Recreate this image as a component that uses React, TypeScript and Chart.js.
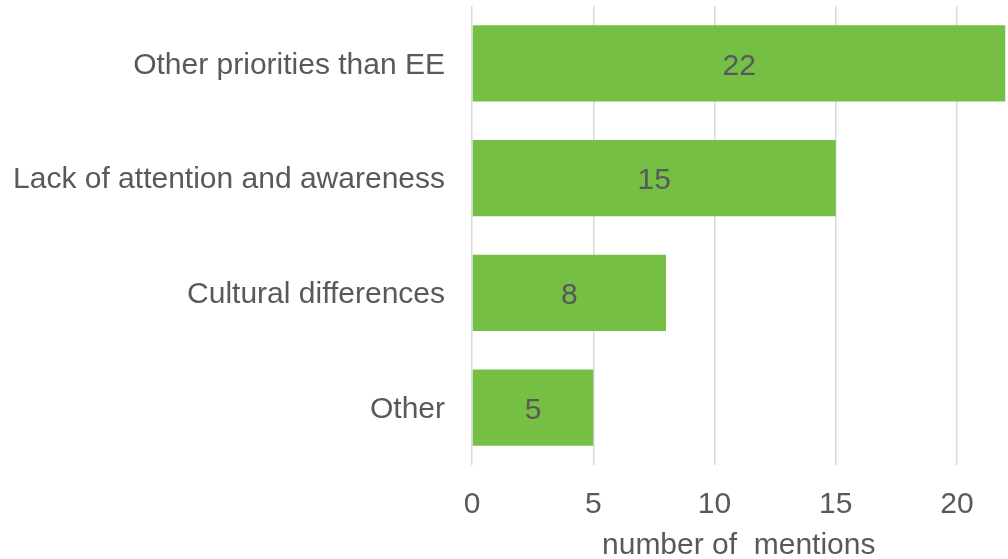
import React, { useEffect, useRef } from "react";
import { Chart, registerables } from "chart.js";

Chart.register(...registerables);

const categories = [
  "Other priorities than EE",
  "Lack of attention and awareness",
  "Cultural differences",
  "Other",
];
const mentions = [22, 15, 8, 5];
const xTicks = [0, 5, 10, 15, 20];
const axisTitle = "number of  mentions";

const FONT = "'Liberation Sans', Arial, sans-serif";
const TEXT = "#595959";
const SIZE = 30;

const valueLabels = {
  id: "valueLabels",
  afterDatasetsDraw(chart: any) {
    const ctx = chart.ctx;
    const meta = chart.getDatasetMeta(0);
    ctx.save();
    ctx.font = `${SIZE}px ${FONT}`;
    ctx.fillStyle = TEXT;
    ctx.textAlign = "center";
    ctx.textBaseline = "middle";
    meta.data.forEach((bar: any, i: number) => {
      const cx = (bar.x + bar.base) / 2;
      ctx.fillText(String(mentions[i]), cx, bar.y + 3);
    });
    ctx.restore();
  },
};

export default function App() {
  const ref = useRef<HTMLCanvasElement>(null);
  useEffect(() => {
    document.body.style.margin = "0";
    const chart = new Chart(ref.current!, {
      type: "bar",
      data: {
        labels: categories,
        datasets: [
          {
            data: mentions,
            backgroundColor: "#75BF44",
            borderWidth: 0,
            barPercentage: 0.665,
            categoryPercentage: 1,
          },
        ],
      },
      options: {
        indexAxis: "y",
        animation: false,
        responsive: false,
        maintainAspectRatio: false,
        layout: { padding: { top: 6, right: 2.5, left: 0, bottom: 0 } },
        plugins: {
          legend: { display: false },
          tooltip: { enabled: false },
        },
        scales: {
          x: {
            min: 0,
            max: 22,
            afterBuildTicks(scale: any) {
              scale.ticks = xTicks.map((v) => ({ value: v }));
            },
            afterFit(scale: any) {
              scale.height = 94;
              scale.paddingLeft = 0;
              scale.paddingRight = 0;
            },
            grid: { color: "#D9D9D9", lineWidth: 1.5, drawTicks: false },
            border: { display: false },
            ticks: {
              color: TEXT,
              font: { family: FONT, size: SIZE },
              padding: 22,
              maxRotation: 0,
            },
            title: {
              display: true,
              text: axisTitle,
              color: TEXT,
              font: { family: FONT, size: SIZE },
              padding: { top: 0, bottom: -5 },
            },
          },
          y: {
            afterFit(scale: any) {
              scale.width = 472;
              scale.paddingTop = 0;
              scale.paddingBottom = 0;
            },
            grid: { display: false, drawTicks: false },
            border: { display: false },
            ticks: {
              color: TEXT,
              font: { family: FONT, size: SIZE },
              padding: 27,
              labelOffset: 2,
            },
          },
        },
      },
      plugins: [valueLabels],
    });
    return () => chart.destroy();
  }, []);
  return (
    <div style={{ width: 1008, height: 559 }}>
      <canvas ref={ref} width={1008} height={559} style={{ display: "block" }} />
    </div>
  );
}
